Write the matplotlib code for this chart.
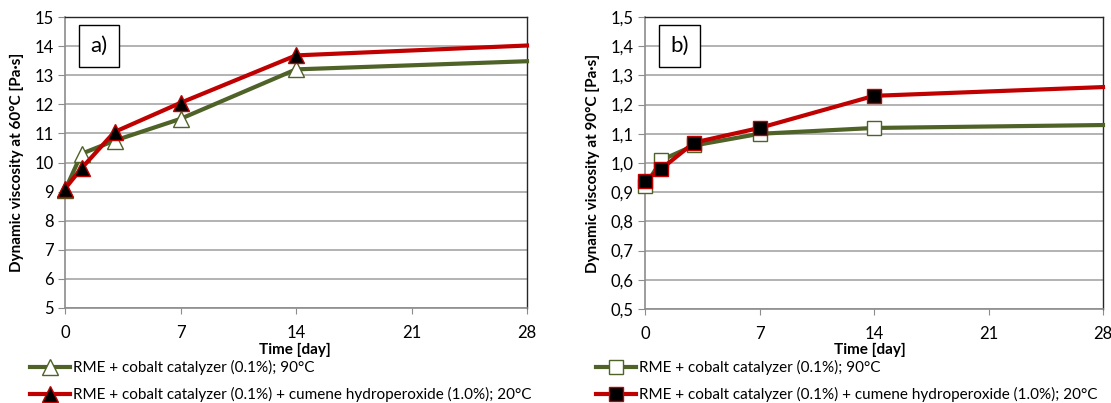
import matplotlib.pyplot as plt
import numpy as np

# data
days = [0, 1, 3, 7, 14, 28]
visc60_co = [9.05, 10.3, 10.75, 11.5, 13.2, 13.48]
visc60_co_chp = [9.1, 9.8, 11.05, 12.05, 13.68, 14.02]
visc90_co = [0.92, 1.01, 1.06, 1.10, 1.12, 1.13]
visc90_co_chp = [0.94, 0.98, 1.07, 1.12, 1.23, 1.26]

label_co = "RME + cobalt catalyzer (0.1%); 90°C"
label_chp = "RME + cobalt catalyzer (0.1%) + cumene hydroperoxide (1.0%); 20°C"

green = '#4f6228'
red = '#c00000'

plt.rcParams['font.family'] = ['Lato', 'DejaVu Sans']

fig = plt.figure(figsize=(11.11, 4.03), dpi=100)
W, H = 1111, 403


def panel(rect, y1, y2, yticks, ylim, ylab, tag, marker, leg_x, xlab_x, fmt):
    l, t, r, b = rect
    ax = fig.add_axes([l / W, 1 - b / H, (r - l) / W, (b - t) / H])
    ms = 11 if marker == '^' else 10
    # the day-28 point carries no marker in the reference
    mk = list(range(len(days) - 1))
    ax.plot(days, y1, color=green, lw=3, marker=marker, ms=ms, markevery=mk,
            mfc='white', mec=green, mew=1, label=label_co, zorder=3, clip_on=False)
    ax.plot(days, y2, color=red, lw=3, marker=marker, ms=ms, markevery=mk,
            mfc='black', mec=red, mew=1, label=label_chp, zorder=4, clip_on=False)
    ax.set_xlim(0, 28)
    ax.set_ylim(*ylim)
    ax.set_xticks([0, 7, 14, 21, 28])
    ax.set_yticks(yticks)
    ax.set_yticklabels([fmt(v) for v in yticks])
    ax.yaxis.grid(True, color='#a6a6a6', lw=1.2)
    ax.set_axisbelow(True)
    for s in ['left', 'bottom']:
        ax.spines[s].set_color('#8c8c8c')
        ax.spines[s].set_linewidth(1.2)
    for s in ['top', 'right']:
        ax.spines[s].set_color('#262626')
        ax.spines[s].set_linewidth(1.0)
    ax.tick_params(axis='y', length=5, color='#8c8c8c', labelsize=12, pad=3)
    ax.tick_params(axis='x', length=4, color='#8c8c8c', labelsize=12, pad=8)
    ax.set_ylabel(ylab, fontsize=11, fontweight='bold', labelpad=8)
    ax.text(0.055, 0.9, tag, transform=ax.transAxes, fontsize=16, va='center', ha='left',
            bbox=dict(boxstyle='square,pad=0.5', fc='white', ec='black', lw=1))
    fig.text(xlab_x / W, 1 - 350 / H, 'Time [day]', fontsize=11, fontweight='bold',
             ha='center', va='center')
    fig.legend(loc='upper left', bbox_to_anchor=(leg_x / W, 1 - 360 / H),
               frameon=False, fontsize=11, handlelength=2.6, handletextpad=0.2,
               labelspacing=0.8, borderaxespad=0, borderpad=0,
               handles=ax.get_lines())
    return ax


panel((65, 17, 527, 308), visc60_co, visc60_co_chp, list(range(5, 16)), (5, 15),
      'Dynamic viscosity at 60°C [Pa·s]', 'a)', '^', 30, 295, lambda v: f'{v:d}')
panel((645, 17, 1103, 309), visc90_co, visc90_co_chp, list(np.round(np.arange(0.5, 1.51, 0.1), 1)),
      (0.5, 1.5), 'Dynamic viscosity at 90°C [Pa·s]', 'b)', 's', 596, 870,
      lambda v: f'{v:.1f}'.replace('.', ','))

fig.savefig('out.png', dpi=100)
